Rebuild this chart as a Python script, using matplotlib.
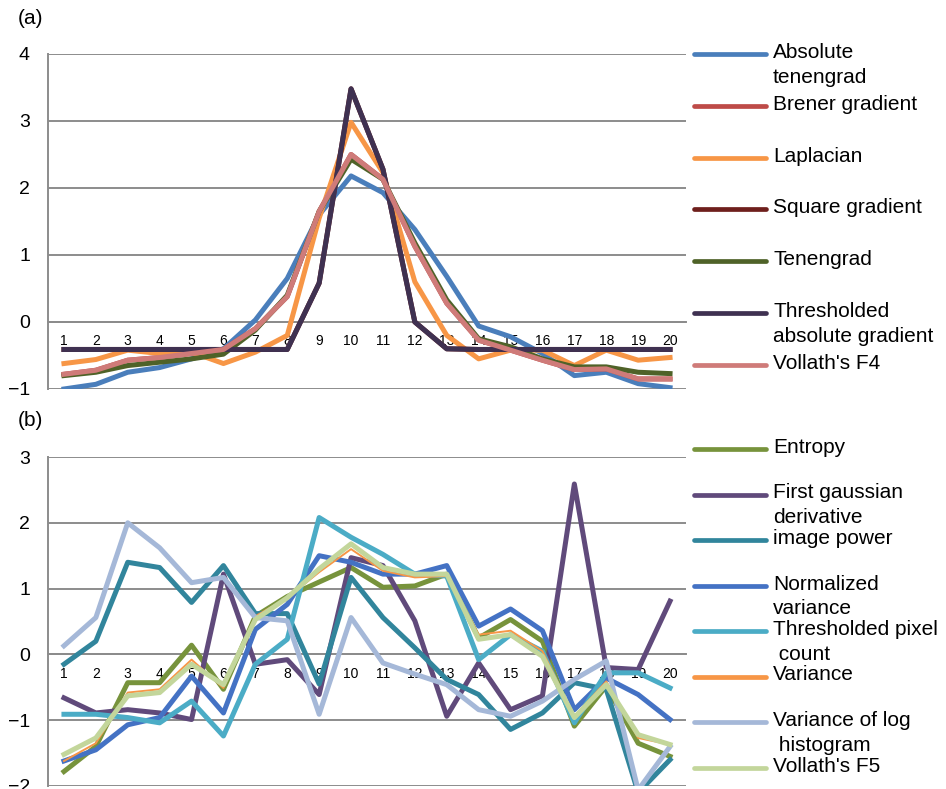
import matplotlib
matplotlib.use("Agg")
import matplotlib.pyplot as plt
from matplotlib.lines import Line2D

plt.rcParams["font.family"] = ["Liberation Sans", "DejaVu Sans"]

frames = list(range(1, 21))

# panel (a)
names_a = ["Absolute\ntenengrad", "Brener gradient", "Laplacian", "Square gradient",
           "Tenengrad", "Thresholded\nabsolute gradient", "Vollath's F4"]
colors_a = ["#4A7EBB", "#BE4B48", "#F79646", "#6E1F1C", "#4F6228", "#3F3151", "#CF7B79"]
abs_tenengrad = [-1.0, -0.93, -0.75, -0.68, -0.55, -0.4, 0.03, 0.65, 1.6, 2.18,
                 1.93, 1.38, 0.68, -0.06, -0.22, -0.47, -0.8, -0.75, -0.92, -0.98]
vollath_f4 = [-0.78, -0.72, -0.57, -0.53, -0.47, -0.41, -0.1, 0.38, 1.65, 2.5,
              2.13, 1.13, 0.28, -0.27, -0.42, -0.57, -0.71, -0.7, -0.85, -0.85]
brener = vollath_f4
laplacian = [-0.62, -0.56, -0.42, -0.47, -0.45, -0.62, -0.45, -0.2, 1.55, 2.98,
             2.23, 0.6, -0.2, -0.55, -0.42, -0.42, -0.65, -0.42, -0.57, -0.53]
thr_abs_grad = [-0.41, -0.41, -0.41, -0.41, -0.41, -0.41, -0.41, -0.41, 0.58, 3.48,
                2.28, 0.0, -0.4, -0.41, -0.41, -0.41, -0.41, -0.41, -0.41, -0.41]
square_grad = thr_abs_grad
tenengrad = [-0.8, -0.75, -0.65, -0.6, -0.55, -0.48, -0.12, 0.4, 1.65, 2.43,
             2.13, 1.18, 0.33, -0.25, -0.37, -0.55, -0.67, -0.67, -0.75, -0.77]
series_a = [abs_tenengrad, brener, laplacian, square_grad, tenengrad, thr_abs_grad, vollath_f4]

# panel (b)
names_b = ["Entropy", "First gaussian\nderivative", "image power", "Normalized\nvariance",
           "Thresholded pixel\n count", "Variance", "Variance of log\n histogram", "Vollath's F5"]
colors_b = ["#77933C", "#604A7B", "#31859C", "#4472C4", "#4BACC6", "#F79646", "#A5B8D8", "#C3D69B"]
entropy = [-1.78, -1.4, -0.43, -0.43, 0.14, -0.53, 0.58, 0.88, 1.1, 1.32,
           1.02, 1.04, 1.22, 0.25, 0.53, 0.2, -1.09, -0.48, -1.35, -1.55]
first_gauss = [-0.66, -0.89, -0.84, -0.89, -0.99, 1.22, -0.15, -0.08, -0.61, 1.47,
               1.35, 0.51, -0.94, -0.13, -0.84, -0.63, 2.59, -0.2, -0.23, 0.81]
image_power = [-0.15, 0.2, 1.4, 1.32, 0.79, 1.35, 0.62, 0.62, -0.45, 1.17,
               0.56, 0.1, -0.38, -0.61, -1.14, -0.89, -0.43, -0.53, -2.1, -1.6]
norm_variance = [-1.62, -1.45, -1.07, -0.96, -0.33, -0.89, 0.38, 0.76, 1.5, 1.4,
                 1.22, 1.22, 1.35, 0.43, 0.69, 0.36, -0.84, -0.36, -0.61, -0.99]
thr_pixel = [-0.91, -0.91, -0.96, -1.04, -0.71, -1.24, -0.15, 0.23, 2.08, 1.78,
             1.52, 1.22, 1.19, -0.08, 0.3, 0.05, -1.04, -0.28, -0.28, -0.51]
variance = [-1.62, -1.35, -0.58, -0.53, -0.08, -0.51, 0.58, 0.86, 1.25, 1.6,
            1.27, 1.17, 1.19, 0.3, 0.36, 0.05, -0.94, -0.41, -1.27, -1.37]
var_log_hist = [0.13, 0.56, 2.0, 1.62, 1.09, 1.17, 0.56, 0.51, -0.91, 0.56,
                -0.13, -0.3, -0.46, -0.84, -0.94, -0.71, -0.38, -0.1, -2.06, -1.4]
vollath_f5 = [-1.52, -1.27, -0.63, -0.58, -0.15, -0.46, 0.53, 0.86, 1.3, 1.68,
              1.32, 1.22, 1.22, 0.23, 0.3, -0.03, -0.96, -0.46, -1.22, -1.37]
series_b = [entropy, first_gauss, image_power, norm_variance, thr_pixel, variance,
            var_log_hist, vollath_f5]
widths_b = [3.6, 3.6, 3.6, 3.6, 3.6, 1.4, 3.6, 3.6]

W, H = 946, 789
fig = plt.figure(figsize=(W / 100, H / 100), dpi=100)


def style_axis(ax, ymin, ymax):
    ax.set_xlim(0.5, 20.5)
    ax.set_ylim(ymin, ymax)
    ax.set_yticks(range(ymin, ymax + 1))
    ax.set_yticklabels([str(v).replace("-", "\u2212") for v in range(ymin, ymax + 1)])
    ax.set_xticks(frames)
    ax.set_xticklabels([str(f) for f in frames], family=["Liberation Sans Narrow", "DejaVu Sans"],
                       fontsize=10)
    ax.grid(axis="y", color="#8C8C8C", linewidth=1.4)
    ax.set_axisbelow(True)
    for side in ("top", "right"):
        ax.spines[side].set_visible(False)
    ax.spines["bottom"].set_position(("data", 0))
    ax.spines["bottom"].set_color("#8C8C8C")
    ax.spines["bottom"].set_linewidth(1.4)
    ax.spines["left"].set_color("#8C8C8C")
    ax.spines["left"].set_linewidth(1.4)
    ax.tick_params(axis="x", length=0, pad=9)
    ax.tick_params(axis="y", length=0, pad=13, labelsize=14)


def legend(names, colors, y0, step):
    for i, (name, color) in enumerate(zip(names, colors)):
        y = 1 - (y0 + i * step) / H
        fig.add_artist(Line2D([694 / W, 766 / W], [y, y], color=color, lw=3.4,
                              solid_capstyle="round"))
        fig.text(773 / W, y + 11 / H, name, fontsize=15, va="top", ha="left", linespacing=1.38)


ax_a = fig.add_axes([48 / W, 1 - 389 / H, 638 / W, 335 / H])
for vals, color in zip(series_a, colors_a):
    ax_a.plot(frames, vals, color=color, lw=3.6, zorder=3)
style_axis(ax_a, -1, 4)
legend(names_a, colors_a, 54, 51.8)

ax_b = fig.add_axes([48 / W, 1 - 786 / H, 638 / W, 329 / H])
for vals, color, lw in zip(series_b, colors_b, widths_b):
    ax_b.plot(frames, vals, color=color, lw=lw, zorder=3)
style_axis(ax_b, -2, 3)
legend(names_b, colors_b, 449, 45.5)

fig.text(18 / W, 1 - 18 / H, "(a)", fontsize=15, va="center", ha="left")
fig.text(18 / W, 1 - 420 / H, "(b)", fontsize=15, va="center", ha="left")

fig.savefig("out.png", dpi=100, facecolor="white")
